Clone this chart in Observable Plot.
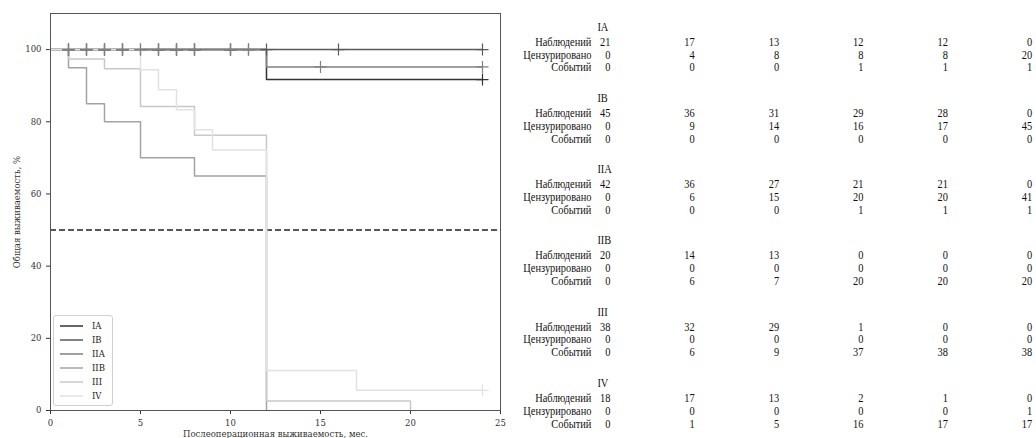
<!DOCTYPE html>
<html><head><meta charset="utf-8">
<script src="https://cdn.jsdelivr.net/npm/d3@7"></script>
<script src="https://cdn.jsdelivr.net/npm/@observablehq/plot@0.6"></script>
<style>
html,body{margin:0;padding:0;background:#fff;}
#wrap{position:relative;width:1036px;height:438px;display:flex;overflow:hidden;}
#left{flex:none;width:515px;}
#right{flex:none;width:521px;height:438px;overflow:hidden;position:relative;}
#legend{position:absolute;left:53px;top:315px;width:58px;padding:3px 0 2px 0;border:1px solid #d0d0d0;border-radius:3px;background:rgba(255,255,255,0.85);font-family:"DejaVu Serif";font-size:8.5px;color:#222;}
#legend .row{display:flex;align-items:center;height:14px;}
#legend svg{margin-left:6px;margin-right:9px;}
</style></head><body>
<div id="wrap"><div id="left"></div><div id="right"></div><div id="legend"></div></div>
<script>
// ---- groups and colours
const groups = ["IA","IB","IIA","IIB","III","IV"];
const colors = ["#333333","#595959","#808080","#a3a3a3","#c8c8c8","#e2e2e2"];

// ---- Kaplan–Meier step curves (time in months, survival %)
const timesIA  = [0, 12, 24];            const survIA  = [100, 91.7, 91.7];
const timesIB  = [0, 24];                const survIB  = [100, 100];
const timesIIA = [0, 12, 24];            const survIIA = [100, 95.2, 95.2];
const timesIIB = [0, 1, 2, 3, 5, 8, 12]; const survIIB = [100, 95, 85, 80, 70, 65, 0];
const timesIII = [0, 1, 3, 5, 8, 12, 20];const survIII = [100, 97.4, 94.7, 84.2, 76.3, 2.6, 0];
const timesIV  = [0, 5, 6, 7, 8, 9, 12, 17, 24];
const survIV   = [100, 94.4, 88.9, 83.3, 77.8, 72.2, 11.1, 5.6, 5.6];

// ---- censoring times
const censIA  = [1, 2, 3, 4, 6, 7, 8, 10, 24];
const censIB  = [1, 2, 3, 4, 5, 6, 7, 8, 10, 11, 12, 16, 24];
const censIIA = [1, 2, 3, 4, 5, 6, 7, 8, 10, 11, 15, 24];
const censIIB = [];
const censIII = [];
const censIV  = [24];

// ---- number-at-risk table
const tableTimes = [0, 5, 10, 15, 20, 25];
const rowLabels = ["Наблюдений", "Цензурировано", "Событий"];
const atRiskIA  = [21,17,13,12,12,0]; const censoredIA  = [0,4,8,8,8,20];   const eventsIA  = [0,0,0,1,1,1];
const atRiskIB  = [45,36,31,29,28,0]; const censoredIB  = [0,9,14,16,17,45];const eventsIB  = [0,0,0,0,0,0];
const atRiskIIA = [42,36,27,21,21,0]; const censoredIIA = [0,6,15,20,20,41];const eventsIIA = [0,0,0,1,1,1];
const atRiskIIB = [20,14,13,0,0,0];   const censoredIIB = [0,0,0,0,0,0];    const eventsIIB = [0,6,7,20,20,20];
const atRiskIII = [38,32,29,1,0,0];   const censoredIII = [0,0,0,0,0,0];    const eventsIII = [0,6,9,37,38,38];
const atRiskIV  = [18,17,13,2,1,0];   const censoredIV  = [0,0,0,0,0,1];    const eventsIV  = [0,1,5,16,17,17];

const xLabel = "Послеоперационная выживаемость, мес.";
const yLabel = "Общая выживаемость, %";

// ---- build tables
const times = [timesIA,timesIB,timesIIA,timesIIB,timesIII,timesIV];
const survs = [survIA,survIB,survIIA,survIIB,survIII,survIV];
const cens  = [censIA,censIB,censIIA,censIIB,censIII,censIV];
const tabs  = [[atRiskIA,censoredIA,eventsIA],[atRiskIB,censoredIB,eventsIB],[atRiskIIA,censoredIIA,eventsIIA],
               [atRiskIIB,censoredIIB,eventsIIB],[atRiskIII,censoredIII,eventsIII],[atRiskIV,censoredIV,eventsIV]];

const stepRows = groups.flatMap((g,i)=>times[i].map((t,j)=>({group:g, t, s:survs[i][j]})));
function survAt(i,t){let v=survs[i][0];times[i].forEach((tt,j)=>{if(tt<=t)v=survs[i][j];});return v;}
const censorRows = groups.flatMap((g,i)=>cens[i].map(t=>({group:g, t, s:survAt(i,t)})));

const plusSym = {draw(ctx,size){const r=Math.sqrt(size/Math.PI);ctx.moveTo(-r,0);ctx.lineTo(r,0);ctx.moveTo(0,-r);ctx.lineTo(0,r);}};

const left = Plot.plot({
  width:515, height:438, marginLeft:50, marginRight:15, marginTop:13, marginBottom:28,
  style:{fontFamily:"DejaVu Serif", fontSize:"8.5px", color:"#333", background:"#fff", overflow:"visible"},
  x:{domain:[0,25], ticks:tableTimes, tickFormat:d=>String(d), label:xLabel, labelArrow:false, labelAnchor:"center", labelOffset:26, tickSize:4},
  y:{domain:[0,110], ticks:[0,20,40,60,80,100], tickFormat:d=>String(d), label:yLabel, labelArrow:false, labelAnchor:"center", labelOffset:37, tickSize:4},
  color:{domain:groups, range:colors},
  marks:[
    Plot.ruleY([50], {stroke:"#222", strokeWidth:1.5, strokeDasharray:"6,3"}),
    Plot.line(stepRows, {x:"t", y:"s", z:"group", stroke:"group", curve:"step-after", strokeWidth:1.5}),
    Plot.dot(censorRows, {x:"t", y:"s", stroke:"group", fill:"none", symbol:plusSym, r:6, strokeWidth:1.2}),
    Plot.frame({stroke:"#555"})
  ]
});
document.getElementById("left").appendChild(left);

// ---- table on right (laid out 1/k wider, then condensed horizontally with an SVG group transform)
const k = 0.8;
const gStep = 5.5, hOff = 1.15;
const headerRows = groups.map((g,gi)=>({g, row:gi*gStep}));
const labelRows = groups.flatMap((g,gi)=>rowLabels.map((l,r)=>({label:l, row:gi*gStep+hOff+r})));
const valueRows = groups.flatMap((g,gi)=>tabs[gi].flatMap((arr,r)=>arr.map((v,c)=>({t:tableTimes[c], v:String(v), row:gi*gStep+hOff+r}))));
const lastRow = 5*gStep+hOff+2;
const fs = 13;

const right = Plot.plot({
  width:Math.round(521/k), height:438, marginLeft:95/k, marginRight:(521-517)/k, marginTop:26, marginBottom:15,
  style:{fontFamily:"Liberation Serif", fontSize:"13px", color:"#111", background:"#fff"},
  x:{domain:[0,25], axis:null},
  y:{domain:[0,lastRow], axis:null, reverse:true},
  marks:[
    Plot.text(headerRows, {x:0, y:"row", text:"g", textAnchor:"start", dx:-13/k, fill:"#111", fontSize:fs}),
    Plot.text(labelRows, {x:0, y:"row", text:"label", textAnchor:"end", dx:-19/k, fill:"#111", fontSize:fs}),
    Plot.text(valueRows, {x:"t", y:"row", text:"v", textAnchor:"end", fill:"#111", fontSize:fs})
  ]
});
{
  const g = document.createElementNS("http://www.w3.org/2000/svg","g");
  g.setAttribute("transform", `scale(${k},1)`);
  [...right.childNodes].forEach(n=>{ if(n.nodeName!=="style") g.appendChild(n); });
  right.appendChild(g);
  right.setAttribute("width", 521);
  right.setAttribute("viewBox", `0 0 521 438`);
}
document.getElementById("right").appendChild(right);

// ---- legend
const leg = d3.select("#legend");
groups.forEach((g,i)=>{
  const row = leg.append("div").attr("class","row");
  const s = row.append("svg").attr("width",23).attr("height",6);
  s.append("line").attr("x1",0).attr("x2",23).attr("y1",3).attr("y2",3).attr("stroke",colors[i]).attr("stroke-width",1.5);
  row.append("span").text(g);
});
</script>
</body></html>
